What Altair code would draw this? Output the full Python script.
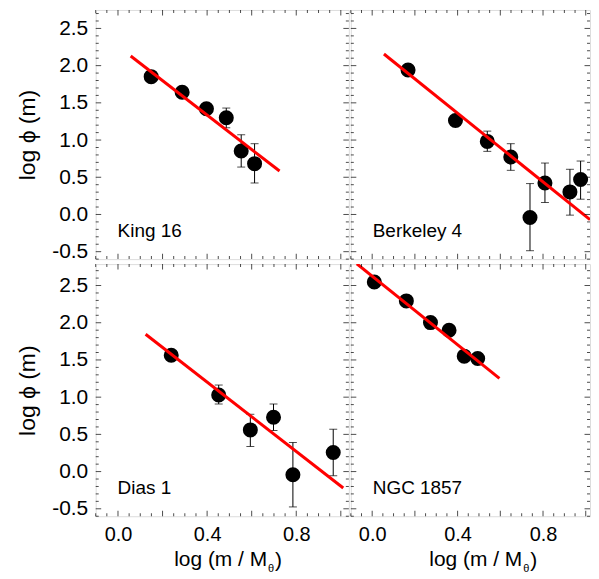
import altair as alt
import pandas as pd

FONT = "Liberation Sans"

# ---- data ----
names = ["King 16", "Berkeley 4", "Dias 1", "NGC 1857"]

k16_x = [0.149, 0.288, 0.397, 0.486, 0.553, 0.613]
k16_y = [1.852, 1.642, 1.420, 1.300, 0.852, 0.683]
k16_lo = [1.80, 1.59, 1.37, 1.165, 0.637, 0.423]
k16_hi = [1.90, 1.69, 1.47, 1.430, 1.071, 0.951]
k16_fx = [0.057, 0.725]
k16_fy = [2.130, 0.584]

be4_x = [0.168, 0.390, 0.539, 0.649, 0.739, 0.809, 0.926, 0.976]
be4_y = [1.942, 1.263, 0.982, 0.772, -0.040, 0.423, 0.303, 0.469]
be4_lo = [1.89, 1.21, 0.848, 0.593, -0.487, 0.161, -0.009, 0.205]
be4_hi = [1.99, 1.31, 1.120, 0.951, 0.415, 0.691, 0.607, 0.718]
be4_fx = [0.055, 1.02]
be4_fy = [2.156, -0.070]

dia_x = [0.239, 0.452, 0.594, 0.698, 0.785, 0.966]
dia_y = [1.564, 1.029, 0.560, 0.730, -0.043, 0.257]
dia_lo = [1.51, 0.908, 0.337, 0.552, -0.475, -0.056]
dia_hi = [1.61, 1.163, 0.770, 0.908, 0.391, 0.569]
dia_fx = [0.124, 1.011]
dia_fy = [1.845, -0.221]

ngc_x = [0.010, 0.160, 0.273, 0.360, 0.431, 0.494]
ngc_y = [2.547, 2.293, 2.002, 1.899, 1.551, 1.520]
ngc_lo = [2.50, 2.25, 1.95, 1.85, 1.48, 1.45]
ngc_hi = [2.60, 2.34, 2.05, 1.95, 1.62, 1.59]
ngc_fx = [-0.072, 0.596]
ngc_fy = [2.792, 1.252]

# axis tick values / labels
x_labels = [0.0, 0.4, 0.8]
y_labels = [-0.5, 0.0, 0.5, 1.0, 1.5, 2.0, 2.5]
x_major = [0.0, 0.2, 0.4, 0.6, 0.8, 1.0]
y_major = [-0.5, 0.0, 0.5, 1.0, 1.5, 2.0, 2.5]
x_minor = [round(-0.1 + 0.05 * i, 2) for i in range(23)]
x_minor = [v for v in x_minor if v not in x_major]
y_minor = [round(-0.6 + 0.1 * i, 1) for i in range(34)]
y_minor = [v for v in y_minor if v not in y_major]

MAJ, MIN = 5.5, 3.0  # inward tick lengths (px)


def panel(name, xs, ys, lo, hi, fx, fy, xdom, ydom, w, h, left, bottom):
    xsc = alt.Scale(domain=xdom, nice=False, zero=False)
    ysc = alt.Scale(domain=ydom, nice=False, zero=False)
    if bottom:
        xaxis = alt.Axis(values=x_labels, format=".1f", ticks=False, domain=False,
                         grid=False, labelPadding=8, labelFontSize=20,
                         labelFont=FONT, labelColor="black", title=None)
    else:
        xaxis = None
    if left:
        yaxis = alt.Axis(values=y_labels,
                         labelExpr="replace(format(datum.value, '.1f'), '\u2212', '-')",
                         ticks=False, domain=False, grid=False, labelPadding=8,
                         labelFontSize=21, labelFont=FONT, labelColor="black",
                         title="log \u03d5 (m)", titleFontSize=23, titleFont=FONT,
                         titleFontWeight="normal", titleColor="black", titlePadding=12)
    else:
        yaxis = None

    def X(f):
        return alt.X(f, type="quantitative", scale=xsc, axis=xaxis)

    def Y(f):
        return alt.Y(f, type="quantitative", scale=ysc, axis=yaxis)

    pts = pd.DataFrame({"x": xs, "y": ys, "lo": lo, "hi": hi})
    fit = pd.DataFrame({"x": fx, "y": fy})
    base = alt.Chart(pts)

    err = base.mark_rule(color="black", strokeWidth=1).encode(x=X("x"), y=Y("lo"), y2="hi")
    cap_lo = base.mark_tick(orient="horizontal", size=8, thickness=1, color="black").encode(x=X("x"), y=Y("lo"))
    cap_hi = base.mark_tick(orient="horizontal", size=8, thickness=1, color="black").encode(x=X("x"), y=Y("hi"))
    dots = base.mark_circle(size=227, color="black", opacity=1).encode(x=X("x"), y=Y("y"))
    line = alt.Chart(fit).mark_line(color="#ff0000", strokeWidth=3, clip=True).encode(x=X("x"), y=Y("y"))

    layers = [err, cap_lo, cap_hi, dots, line]
    # inward tick marks on all four edges
    for vals, ln in ((x_major, MAJ), (x_minor, MIN)):
        for e, sgn in ((ydom[0], -1), (ydom[1], 1)):
            d = pd.DataFrame({"v": vals, "e": [e] * len(vals)})
            layers.append(alt.Chart(d).mark_tick(orient="vertical", size=ln, thickness=1,
                                                 color="black", yOffset=sgn * ln / 2)
                          .encode(x=X("v"), y=Y("e")))
    for vals, ln in ((y_major, MAJ), (y_minor, MIN)):
        for e, sgn in ((xdom[0], 1), (xdom[1], -1)):
            d = pd.DataFrame({"v": vals, "e": [e] * len(vals)})
            layers.append(alt.Chart(d).mark_tick(orient="horizontal", size=ln, thickness=1,
                                                 color="black", xOffset=sgn * ln / 2)
                          .encode(x=X("e"), y=Y("v")))

    lab = pd.DataFrame({"name": [name]})
    layers.append(alt.Chart(lab).mark_text(align="left", baseline="alphabetic", fontSize=19,
                                           font=FONT, color="black")
                  .encode(x=alt.value(22), y=alt.value(h - 22), text="name:N"))
    if bottom:
        t = pd.DataFrame({"t": ["log (m / M"], "s": ["\u03b8"], "p": [")"]})
        layers.append(alt.Chart(t).mark_text(align="right", baseline="alphabetic", fontSize=21,
                                             font=FONT, color="black")
                      .encode(x=alt.value(172), y=alt.value(h + 50), text="t:N"))
        layers.append(alt.Chart(t).mark_text(align="left", baseline="alphabetic", fontSize=11,
                                             font=FONT, color="black")
                      .encode(x=alt.value(173), y=alt.value(h + 56), text="s:N"))
        layers.append(alt.Chart(t).mark_text(align="left", baseline="alphabetic", fontSize=21,
                                             font=FONT, color="black")
                      .encode(x=alt.value(180), y=alt.value(h + 51), text="p:N"))
    return alt.layer(*layers).properties(width=w, height=h)


TOP = [-0.6, 2.748]
BOT = [-0.6, 2.788]
XL = [-0.1, 1.036]
XR = [-0.1, 1.02]

p1 = panel(names[0], k16_x, k16_y, k16_lo, k16_hi, k16_fx, k16_fy, XL, TOP, 254, 250, True, False)
p2 = panel(names[1], be4_x, be4_y, be4_lo, be4_hi, be4_fx, be4_fy, XR, TOP, 240, 250, False, False)
p3 = panel(names[2], dia_x, dia_y, dia_lo, dia_hi, dia_fx, dia_fy, XL, BOT, 254, 253, True, True)
p4 = panel(names[3], ngc_x, ngc_y, ngc_lo, ngc_hi, ngc_fx, ngc_fy, XR, BOT, 240, 253, False, True)

row1 = alt.hconcat(p1, p2, spacing=0)
row2 = alt.hconcat(p3, p4, spacing=0)
chart = (alt.vconcat(row1, row2, spacing=0)
         .properties(padding={"left": 8, "top": 0, "right": 0, "bottom": 0})
         .configure_view(stroke="#222222", strokeWidth=1)
         .configure(font=FONT))

chart.save("out.html", embed_options={"renderer": "svg", "actions": False})
